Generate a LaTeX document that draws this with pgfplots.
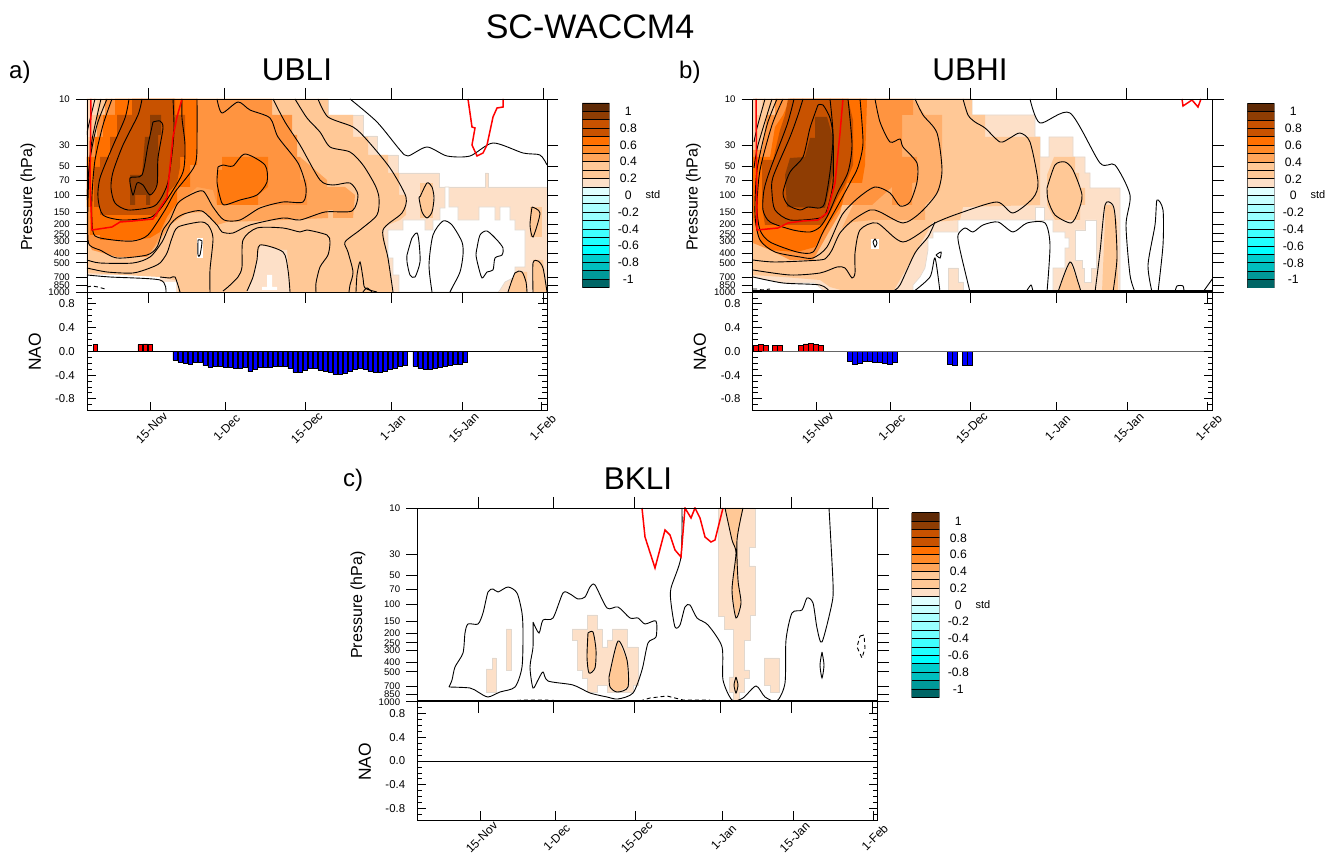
\documentclass[border=0pt]{standalone}
\usepackage{fontspec}
\setmainfont{Liberation Sans}
\usepackage{pgfplots}
\pgfplotsset{compat=1.18}
\definecolor{cA}{HTML}{5F2A06}\definecolor{cB}{HTML}{8F3D03}\definecolor{cC}{HTML}{C85200}
\definecolor{cD}{HTML}{FF7000}\definecolor{cE}{HTML}{FF8A28}\definecolor{cF}{HTML}{FFA55A}
\definecolor{cG}{HTML}{FFC896}\definecolor{cH}{HTML}{FDE0C8}\definecolor{cMain}{HTML}{FF9440}
\definecolor{cBlob}{HTML}{FF7A10}\definecolor{cStrip}{HTML}{FFD8B8}\definecolor{cEdge}{HTML}{E2D8CE}
\definecolor{cI}{HTML}{E0FFFF}\definecolor{cJ}{HTML}{C8FFFF}\definecolor{cK}{HTML}{AAFFFF}\definecolor{cL}{HTML}{99FFFF}
\definecolor{cM}{HTML}{70FFFF}\definecolor{cN}{HTML}{40FFFF}\definecolor{cO}{HTML}{20FFFF}\definecolor{cP}{HTML}{00FFFF}
\definecolor{cQ}{HTML}{00CCCC}\definecolor{cR}{HTML}{00BFBF}\definecolor{cS}{HTML}{009999}\definecolor{cT}{HTML}{006666}
\newcommand\fs[1]{\fontsize{#1}{#1}\selectfont}
\newcommand\reg[2]{\addplot[fill=#1,draw=none,forget plot] coordinates {#2};}
\newcommand\regE[2]{\addplot[fill=#1,draw=cEdge,line width=0.7pt,forget plot] coordinates {#2};}
\newcommand\ctr[1]{\addplot[black,line width=0.9pt,smooth,tension=0.45,forget plot] coordinates {#1};}
\newcommand\ctrd[1]{\addplot[black,line width=0.9pt,dash pattern=on 4pt off 3pt,forget plot] coordinates {#1};}
\newcommand\rln[1]{\addplot[red,line width=1.5pt,forget plot] coordinates {#1};}
\newcommand\zero[3][black]{\addplot[#1,line width=0.9pt,forget plot] coordinates {(#2,0)(#3,0)};}
\newcommand\barsR[1]{\addplot[ybar,bar shift=0pt,bar width=4.6pt,fill=red,draw=black,line width=0.6pt,forget plot] coordinates {#1};}
\newcommand\barsB[1]{\addplot[ybar,bar shift=0pt,bar width=4.6pt,fill=blue,draw=black,line width=0.6pt,forget plot] coordinates {#1};}
\pgfplotsset{
 ptop/.style={scale only axis,no markers,axis on top,axis line style={line width=0.8pt},
  tick style={black,line width=0.8pt},tick align=outside,major tick length=11pt,
  xtick pos=both,ytick pos=both,yticklabel pos=left,xticklabels={},y dir=reverse,
  yticklabels={10,30,50,70,100,150,200,250,300,400,500,700,850,1000},
  yticklabel style={font=\fs{9.6},inner sep=0pt,xshift=-6pt}},
 pnao/.style={scale only axis,no markers,axis on top,ymin=-1,ymax=1,axis line style={line width=0.8pt},
  tick style={black,line width=0.8pt},tick align=inside,major tick length=9pt,minor tick length=5pt,
  ytick={-0.8,-0.4,0,0.4,0.8},yticklabels={-0.8,-0.4,0.0,0.4,0.8},
  minor ytick={-1,-0.9,-0.7,-0.6,-0.5,-0.3,-0.2,-0.1,0.1,0.2,0.3,0.5,0.6,0.7,0.9,1},
  ytick pos=both,yticklabel pos=left,xtick pos=bottom,
  xticklabels={15-Nov,1-Dec,15-Dec,1-Jan,15-Jan,1-Feb},
  xticklabel style={font=\fs{12},rotate=45,anchor=center,yshift=-13.2pt,xshift=-10.8pt},
  yticklabel style={font=\fs{11.4},inner sep=0pt,xshift=-12pt}},
 pbar/.style={scale only axis,no markers,xmin=0,xmax=1,ymin=-1.1,ymax=1.1,axis line style={draw=none},
  xtick=\empty,major tick length=0pt,tick style={draw=none},
  ytick={-1,-0.8,-0.6,-0.4,-0.2,0,0.2,0.4,0.6,0.8,1},
  yticklabels={-1,-0.8,-0.6,-0.4,-0.2,0,0.2,0.4,0.6,0.8,1},
  ytick pos=right,yticklabel pos=right,
  yticklabel style={font=\fs{12.2},anchor=center,inner sep=0pt,xshift=19pt}}}
\newcommand\cbox[2]{\pgfmathsetmacro\lo{#2-0.1}\edef\tmp{\noexpand\addplot[fill=#1,draw=black,line width=0.8pt,forget plot] coordinates {(0,#2)(1,#2)(1,\lo)(0,\lo)(0,#2)};}\tmp}
\newcommand\allboxes{%
\cbox{cA}{1.1}\cbox{cB}{1.0}\cbox{cC}{0.9}\cbox{cC}{0.8}\cbox{cD}{0.7}\cbox{cE}{0.6}\cbox{cF}{0.5}\cbox{cG}{0.4}\cbox{cG}{0.3}\cbox{cH}{0.2}%
\cbox{cI}{0.1}\cbox{cJ}{0.0}\cbox{cK}{-0.1}\cbox{cL}{-0.2}\cbox{cM}{-0.3}\cbox{cN}{-0.4}\cbox{cO}{-0.5}\cbox{cP}{-0.6}%
\cbox{cQ}{-0.7}\cbox{cR}{-0.8}\cbox{cS}{-0.9}\cbox{cT}{-1.0}}
\begin{document}
\begin{tikzpicture}[x=1pt,y=1pt]
\path[use as bounding box] (0,0) rectangle (1336,853);
% ---------- panel a contour
\begin{axis}[ptop,at={(87pt,561pt)},anchor=south west,width=460pt,height=193pt,xmin=87,xmax=547,ymin=99,ymax=292,
 xtick={148,224,305,391,462,543},ytick={99,145,166.5,180.6,195.5,212.5,224.6,233.9,241.5,253.6,262.9,277,285.2,292}]
\regE{cH}{(87,99)(328,99)(328,115)(363,115)(363,136)(377,136)(377,155)(398,155)(398,173)(439,173)(439,187)(485,187)(485,173)(488,173)(488,187)(547,187)(547,292)(87,292)}
\regE{white}{(388,230)(403,230)(403,220)(425,220)(425,230)(433,230)(433,220)(440,220)(440,208)(445,208)(445,187)(449,187)(449,207)(458,207)(458,220)(479,220)(479,207)(495,207)(495,220)(500,220)(500,207)(510,207)(510,220)(515,220)(515,230)(525,230)(525,267)(515,267)(515,277)(505,282)(500,290)(498,292)(399,292)(399,275)(393,275)(393,258)(388,258)(388,230)}
\reg{white}{(87,275)(160,275)(160,282)(176,282)(176,292)(87,292)}
\reg{cG}{(87,99)(328,99)(328,115)(353,115)(353,137)(368,137)(368,155)(388,155)(388,173)(399,173)(399,195)(406,195)(406,215)(400,220)(388,225)(383,230)(388,258)(393,292)(178,292)(178,281)(160,277)(87,273)}
\reg{cH}{(260,245)(283,250)(287,250)(290,292)(247,292)(253,277)(257,260)}
\reg{white}{(267,275)(272,275)(272,287)(277,287)(277,290)(262,290)(262,287)(267,287)}
\reg{white}{(197,238)(203,238)(203,258)(197,258)}
\reg{cG}{(420,183)(433,183)(433,218)(420,218)}
\reg{cG}{(530,207)(542,207)(542,237)(530,237)}
\reg{cG}{(508,292)(515,272)(527,272)(527,292)}
\reg{cG}{(533,292)(533,260)(543,260)(547,292)}
\reg{cStrip}{(87,99)(97,99)(97,115)(90,115)(90,137)(87,137)}
\reg{cF}{(147,258)(160,240)(170,225)(187,213)(205,212)(217,225)(227,222)(283,220)(328,218)(328,210)(333,210)(333,218)(353,218)(355,195)(345,187)(327,187)(327,180)(300,157)(200,160)}
\reg{cMain}{(105,99)(272,99)(272,115)(292,115)(292,135)(297,135)(297,157)(300,157)(300,180)(307,180)(307,205)(217,205)(213,190)(197,187)(177,205)(165,225)(155,245)(147,257)(117,257)(92,250)(87,240)(87,157)(90,157)(90,137)(97,137)(97,115)(105,115)}
\reg{cBlob}{(222,157)(268,157)(268,187)(258,195)(258,205)(217,205)(217,170)(222,170)}
\reg{cD}{(115,99)(197,99)(197,165)(190,165)(190,187)(177,187)(177,203)(167,217)(160,232)(150,238)(133,240)(100,240)(100,235)(90,235)(90,207)(87,207)(87,157)(95,157)(95,137)(103,137)(103,115)(115,115)}
\reg{cC}{(132,99)(175,99)(175,115)(185,115)(185,157)(180,157)(180,167)(177,183)(168,193)(160,207)(157,217)(150,215)(100,215)(100,207)(94,207)(94,167)(100,167)(100,157)(110,157)(110,137)(117,137)(117,115)(132,115)}
\reg{cB}{(150,115)(161,115)(161,135)(158,135)(158,183)(150,195)(150,205)(146,205)(146,195)(135,195)(135,205)(130,205)(130,175)(142,175)(145,137)(150,137)}
\ctr{(153,122)(160,121)(163,128)(158,158)(157,185)(150,195)(143,185)(137,183)(133,195)(130,178)(142,175)(148,145)(153,122)}
\ctr{(142,99)(138,115)(123,145)(113,172)(111,188)(115,203)(128,210)(152,207)(160,200)(168,182)(173,145)(174,125)(173,99)}
\ctr{(129,99)(125,118)(112,148)(100,178)(98,198)(103,215)(122,220)(148,218)(157,213)(168,198)(183,172)(185,145)(182,118)(182,99)}
\ctr{(112,99)(103,125)(95,160)(92,195)(92,222)(95,236)(113,240)(133,241)(148,235)(165,210)(175,192)(195,165)(197,135)(197,99)}
\ctr{(107,99)(97,125)(90,160)(88,200)(88,240)(92,247)(100,250)(117,258)(147,255)(157,247)(163,230)(170,220)(178,203)(190,195)(203,191)(213,207)(224,220)(240,220)(260,208)(283,202)(303,202)(306,187)(298,163)(278,137)(270,118)(250,110)(238,102)(222,113)(217,99)}
\ctr{(218,167)(223,165)(233,166)(245,154)(265,165)(267,182)(257,195)(240,200)(224,205)(220,197)(217,182)(218,167)}
\ctr{(101,99)(92,140)(88,180)(87,200)}
\ctr{(273,99)(285,122)(300,145)(320,180)(333,185)(350,183)(358,195)(352,211)(325,212)(300,220)(283,218)(250,225)(233,233)(222,232)(217,225)(202,211)(187,213)(178,217)(170,225)(162,242)(150,257)(133,263)(100,263)(87,260)}
\ctr{(95,99)(88,128)(87,135)}
\ctr{(295,99)(307,118)(320,132)(330,147)(350,152)(363,165)(375,185)(379,198)(377,215)(360,230)(345,242)(348,252)(353,272)(350,285)(349,292)}
\ctr{(87,268)(107,272)(133,273)(150,268)(160,263)(167,253)(172,238)(178,227)(200,222)(208,225)(213,238)(210,270)(210,292)}
\ctr{(223,291)(228,287)(238,277)(242,267)(243,240)(257,228)(283,228)(300,232)(307,230)(327,235)(330,242)(328,255)(320,267)(316,283)(316,292)}
\ctr{(247,291)(253,277)(257,260)(260,245)(283,252)(288,270)(290,292)}
\ctr{(198,240)(202,241)(200,255)(198,255)(198,240)}
\ctr{(318,99)(328,117)(353,127)(367,140)(390,168)(406,197)(402,213)(383,230)(388,258)(393,292)}
\ctr{(350,99)(377,122)(400,150)(408,156)(427,147)(447,156)(470,156)(493,143)(523,153)(540,155)(547,165)}
\ctr{(87,275)(110,277)(160,280)(166,292)}
\ctr{(160,277)(170,278)(175,277)(180,292)}
\ctr{(356,292)(357,275)(360,262)(363,278)(365,288)(377,292)}
\ctr{(363,292)(367,288)(372,292)}
\ctr{(420,197)(427,183)(432,187)(434,198)(432,212)(427,218)(422,212)(419,198)(420,197)}
\ctr{(407,255)(412,238)(417,233)(419,242)(420,262)(415,277)(410,275)(407,262)(407,255)}
\ctr{(432,292)(429,265)(433,235)(443,221)(452,225)(462,242)(463,255)(460,272)(452,288)(450,292)}
\ctr{(477,248)(480,235)(487,231)(497,240)(503,248)(502,255)(495,258)(493,270)(487,272)(482,278)(478,265)(476,255)(477,248)}
\ctr{(532,207)(540,213)(533,237)(530,225)(532,207)}
\ctr{(508,292)(515,273)(522,272)(526,282)(527,292)}
\ctr{(533,292)(533,263)(538,261)(543,268)(547,292)}
\ctrd{(87,287)(92,286)(98,287)(105,289)}
\rln{(91,99)(90,183)(92,230)(112,227)(120,222)(133,221)(153,219)(167,197)(173,137)(177,117)(182,99)}
\rln{(468,99)(472,127)(475,128)(472,145)(477,156)(483,153)(487,145)(493,117)(497,108)(503,107)(503,99)}
\end{axis}
% ---------- panel a NAO
\begin{axis}[pnao,at={(87pt,442.3pt)},anchor=south west,width=460pt,height=118.7pt,xmin=87,xmax=547,xtick={150,225,305,391,462,541}]
\barsR{(95.3,0.12)(140.2,0.115)(145.2,0.125)(150.2,0.12)}
\barsB{(175.2,-0.146)(180.2,-0.18)(185.2,-0.2)(190.2,-0.21)(195.2,-0.19)(200.2,-0.19)(205.2,-0.235)(210.2,-0.265)(215.2,-0.25)(220.2,-0.255)(225.2,-0.27)(230.2,-0.275)(235.2,-0.28)(240.2,-0.285)(245.2,-0.275)(250.2,-0.34)(255.2,-0.3)(260.2,-0.275)(265.2,-0.27)(270.2,-0.265)(275.2,-0.25)(280.2,-0.25)(285.2,-0.26)(290.2,-0.29)(295.2,-0.355)(300.2,-0.36)(305.2,-0.32)(310.2,-0.29)(315.2,-0.285)(320.2,-0.315)(325.2,-0.33)(330.2,-0.355)(335.2,-0.39)(340.2,-0.38)(345.2,-0.37)(350.2,-0.33)(355.2,-0.30)(360.2,-0.29)(365.2,-0.31)(370.2,-0.34)(375.2,-0.36)(380.2,-0.35)(385.2,-0.33)(390.2,-0.31)(395.2,-0.29)(400.2,-0.26)(405.2,-0.24)(415.2,-0.25)(420.2,-0.29)(425.2,-0.31)(430.2,-0.3)(435.2,-0.28)(440.2,-0.27)(445.2,-0.25)(450.2,-0.24)(455.2,-0.22)(460.2,-0.21)(465.2,-0.18)}
\zero{87}{547}
\end{axis}
% ---------- panel b contour
\begin{axis}[ptop,at={(752.7pt,561pt)},anchor=south west,width=460pt,height=193pt,xmin=752.7,xmax=1212.7,ymin=99,ymax=292,
 xtick={813.7,889,970,1056,1126.7,1207.7},ytick={99,145,166.5,180.6,195.5,212.5,224.6,233.9,241.5,253.6,262.9,277,285.2,292}]
\regE{cH}{(753,99)(972,99)(972,115)(1035,115)(1035,137)(1040,137)(1040,157)(1049,157)(1049,137)(1073,137)(1073,157)(1085,157)(1085,173)(1090,173)(1090,188)(1120,188)(1120,292)(825,292)(815,283)(783,283)(753,277)}
\regE{white}{(913,292)(913,285)(920,277)(925,268)(928,250)(928,238)(933,238)(933,232)(958,232)(958,220)(1044,220)(1053,220)(1053,232)(1065,232)(1065,238)(1069,238)(1069,248)(1065,248)(1065,268)(1053,268)(1053,292)}
\regE{white}{(1085,220)(1085,230)(1075,230)(1075,260)(1082,260)(1082,268)(1084,268)(1084,282)(1091,282)(1091,268)(1096,268)(1096,220)(1085,220)}
\regE{white}{(1035,207)(1044,207)(1044,220)(1035,220)(1035,207)}
\regE{cH}{(948,292)(948,268)(958,268)(958,282)(963,282)(963,292)}
\reg{cG}{(753,99)(972,99)(972,115)(985,115)(985,137)(1040,137)(1040,205)(963,207)(960,220)(933,222)(917,250)(893,292)(848,292)(830,287)(820,280)(783,277)(753,275)}
\reg{cG}{(1054,157)(1075,157)(1075,173)(1079,173)(1079,188)(1085,188)(1085,205)(1080,205)(1080,220)(1055,220)(1047,205)(1047,175)}
\reg{cG}{(1102,292)(1105,220)(1105,205)(1112,205)(1117,222)(1118,292)}
\reg{cG}{(1058,292)(1070,262)(1078,282)(1081,292)}
\reg{white}{(871,239)(879,239)(879,249)(871,249)}
\reg{cStrip}{(753,99)(762,99)(762,115)(756,115)(756,140)(753,140)}
\reg{cF!70!cG}{(842,228)(853,205)(867,150)(913,99)(925,115)(942,115)(942,170)(940,190)(925,205)(925,220)(873,220)(853,222)}
\reg{cMain}{(775,99)(913,99)(913,115)(902,115)(902,157)(917,157)(917,182)(912,183)(912,205)(892,205)(892,187)(872,205)(842,205)(840,213)(830,230)(817,253)(813,260)(790,260)(770,250)(753,243)(753,150)(762,150)(767,115)(775,115)}
\reg{cD}{(790,99)(867,99)(865,165)(862,183)(847,183)(842,205)(827,227)(815,247)(797,252)(770,250)(760,242)(753,217)(753,157)(770,157)(775,127)(783,115)}
\reg{cC}{(788,99)(848,99)(853,120)(853,165)(845,185)(838,197)(830,213)(822,225)(800,225)(765,225)(762,207)(762,160)(773,160)(780,130)(785,115)}
\reg{cB}{(815,117)(827,117)(833,138)(833,172)(825,208)(787,207)(785,175)(790,158)(805,157)(810,138)(815,138)}
\ctr{(818,105)(823,105)(830,118)(833,138)(830,172)(825,202)(820,208)(808,207)(800,210)(788,205)(783,193)(790,172)(803,157)(810,128)(818,105)}
\ctr{(803,99)(798,115)(790,137)(773,177)(772,193)(775,210)(790,220)(820,218)(827,210)(833,183)(833,133)(830,99)}
\ctr{(794,99)(787,125)(770,170)(764,190)(763,210)(770,222)(793,230)(810,232)(820,227)(828,215)(838,192)(848,172)(852,145)(848,99)}
\ctr{(860,99)(863,143)(858,167)(850,183)(837,207)(823,232)(813,252)(797,252)(770,242)(760,230)(757,207)(760,170)(772,125)(783,99)}
\ctr{(875,99)(880,122)(890,142)(900,139)(903,147)(917,163)(917,182)(910,202)(900,206)(890,193)(875,187)(858,198)(842,215)(827,247)(813,258)(800,257)(775,252)(760,240)(755,215)(757,170)(767,125)(777,99)}
\ctr{(915,99)(923,115)(937,133)(942,170)(937,193)(920,213)(903,223)(880,212)(870,210)(853,220)(840,233)(832,250)(827,257)(820,260)(775,262)(753,260)}
\ctr{(772,99)(758,145)(754,168)}
\ctr{(765,99)(757,128)(754,142)}
\ctr{(963,99)(968,115)(975,122)(985,128)(1000,142)(1010,138)(1020,133)(1030,142)(1038,182)(1033,198)(1013,213)(997,202)(963,212)(935,223)(903,242)(877,223)(860,230)(855,253)(855,273)(852,278)(845,268)(837,267)(820,273)(790,275)(753,270)}
\ctr{(893,291)(900,285)(915,253)(928,237)(935,222)}
\ctr{(753,277)(783,283)(820,285)(830,292)}
\ctr{(1030,99)(1040,123)(1070,113)(1100,163)(1115,165)(1130,195)(1126,225)(1130,275)(1135,292)}
\ctr{(970,292)(960,250)(958,235)(965,228)(973,232)(983,225)(998,222)(1013,232)(1027,223)(1045,223)(1050,245)(1047,292)}
\ctr{(873,242)(875,239)(877,243)(875,247)(873,242)}
\ctr{(913,292)(930,277)(935,258)(940,292)}
\ctr{(936,255)(941,252)(940,258)(936,255)}
\ctr{(1047,188)(1055,165)(1065,162)(1073,170)(1082,195)(1078,212)(1071,223)(1055,215)(1048,200)(1047,188)}
\ctr{(1095,292)(1100,252)(1105,205)(1112,204)(1115,215)(1117,258)(1113,292)}
\ctr{(1058,292)(1070,262)(1078,282)(1081,292)}
\ctr{(1026,292)(1031,285)(1033,292)}
\ctr{(1152,292)(1148,265)(1155,225)(1157,200)(1163,210)(1163,245)(1158,292)}
\ctr{(1175,292)(1177,286)(1183,286)(1184,292)}
\ctr{(1203,292)(1213,278)}
\ctrd{(753,289)(757,289)(762,290)(770,289)}
\addplot[black,line width=3pt,forget plot] coordinates {(752.7,292)(1212.7,292)};
\rln{(756,99)(757,230)(778,228)(788,223)(803,221)(818,220)(827,213)(835,183)(840,133)(843,99)}
\rln{(1182,99)(1183,106)(1192,100)(1198,107)(1201,99)}
\end{axis}
% ---------- panel b NAO
\begin{axis}[pnao,at={(752.7pt,442.3pt)},anchor=south west,width=460pt,height=118.7pt,xmin=752.7,xmax=1212.7,xtick={816,890,970,1056,1127,1207}]
\barsR{(755.8,0.1)(760.8,0.12)(765.8,0.1)(775,0.105)(780,0.105)(800.8,0.1)(805.8,0.125)(810.8,0.135)(815.8,0.12)(820.8,0.1)}
\barsB{(850,-0.175)(855,-0.21)(860,-0.2)(865,-0.17)(870,-0.17)(875,-0.18)(880,-0.185)(885,-0.2)(890,-0.215)(895,-0.185)(950,-0.215)(955,-0.23)(965,-0.23)(970,-0.235)}
\zero[black!60]{752.7}{1212.7}
\end{axis}
% ---------- panel c contour
\begin{axis}[ptop,at={(417.3pt,151.3pt)},anchor=south west,width=460.4pt,height=193.7pt,xmin=417.3,xmax=877.7,ymin=508,ymax=701.7,
 xtick={478,553.7,634.7,720.7,791.3,872.3},ytick={508,554,575.5,589.6,604.5,621.5,633.6,642.9,650.5,662.6,671.9,686,694.2,701.7}]
\regE{cH}{(718,508)(755,508)(755,547)(749,547)(749,566)(755,566)(755,615)(750,615)(750,640)(744,640)(744,670)(749,670)(749,678)(744,678)(744,692)(739,692)(739,702)(733,702)(733,692)(729,692)(729,677)(733,677)(733,629)(724,629)(724,616)(718,616)(718,508)}
\regE{cH}{(764,658)(779,658)(779,692)(770,692)(770,685)(764,685)(764,658)}
\regE{cH}{(486,669)(492,669)(492,658)(496,658)(496,692)(486,692)(486,669)}
\regE{cH}{(506,629)(511,629)(511,670)(506,670)(506,629)}
\regE{cH}{(587,615)(597,615)(597,629)(602,629)(602,647)(607,647)(607,640)(612,640)(612,629)(627,629)(627,647)(638,647)(638,685)(633,685)(633,692)(607,692)(607,685)(597,685)(597,692)(587,692)(587,678)(582,678)(582,670)(577,670)(577,640)(572,640)(572,629)(587,629)(587,615)}
\reg{cG}{(609,677)(618,641)(627,660)(628,687)(617,692)(610,687)}
\reg{cG}{(588,633)(593,632)(596,650)(595,668)(589,673)(587,657)}
\reg{cG}{(725,508)(732,540)(736,553)(732,590)(736,618)(741,603)(738,580)(737,540)(743,508)}
\reg{cG}{(736,677)(738,685)(736,693)(734,685)}
\ctr{(449,687)(452,680)(455,667)(463,653)(465,633)(468,624)(478,624)(483,613)(488,592)(493,589)(498,592)(508,587)(517,593)(522,613)(523,633)(522,667)(515,687)(500,692)(488,697)(478,692)(470,688)(449,687)}
\ctr{(533,622)(539,633)(543,620)(553,618)(563,593)(570,594)(578,599)(585,597)(590,587)(595,585)(607,608)(618,607)(630,618)(638,618)(645,624)(656,621)(656,637)(648,643)(642,670)(633,693)(618,699)(607,697)(590,693)(573,685)(548,681)(543,672)(538,680)(533,688)(530,667)(533,647)(533,622)}
\ctr{(588,633)(593,632)(596,650)(595,668)(589,673)(587,657)(588,633)}
\ctr{(609,677)(618,641)(627,660)(628,687)(617,692)(610,687)(609,677)}
\ctr{(682,508)(681,557)(671,588)(671,603)(675,627)(680,625)(685,607)(690,605)(697,618)(708,625)(722,647)(723,680)(732,700)(743,698)(756,686)(765,697)(777,701)(785,683)(786,640)(792,613)(802,610)(807,598)(813,603)(817,628)(822,642)(832,603)(833,583)(829,508)}
\ctr{(725,508)(732,540)(736,553)(732,590)(736,618)(741,603)(738,580)(737,540)(743,508)}
\ctr{(736,677)(738,685)(736,693)(734,685)(736,677)}
\ctr{(822,652)(824,665)(822,678)(820,665)(822,652)}
\ctrd{(860,636)(864,635)(865,648)(862,658)(857,647)(860,636)}
\ctrd{(510,701)(523,700)(543,700)(567,701)}
\ctrd{(640,701)(650,698)(667,696)(683,700)(710,700)}
\addplot[black,line width=3pt,forget plot] coordinates {(417.3,701.7)(877.7,701.7)};
\rln{(642,508)(645,537)(655,568)(665,530)(670,535)(675,550)(681,557)(685,508)(691,518)(695,508)(700,518)(705,537)(711,542)(715,540)(723,508)}
\end{axis}
% ---------- panel c NAO
\begin{axis}[pnao,at={(417.3pt,32.6pt)},anchor=south west,width=460.4pt,height=118.7pt,xmin=417.3,xmax=877.7,xtick={480,555,635,722,793,873}]
\zero{417.3}{877.7}
\end{axis}
% ---------- colour bars
\begin{axis}[pbar,at={(582.3pt,565.3pt)},anchor=south west,width=27pt,height=184.7pt]\allboxes\end{axis}
\begin{axis}[pbar,at={(1247.3pt,565pt)},anchor=south west,width=27pt,height=184.7pt]\allboxes\end{axis}
\begin{axis}[pbar,at={(911.7pt,155.7pt)},anchor=south west,width=27.6pt,height=184.6pt]\allboxes\end{axis}
% ---------- text
\node[font=\fs{34}] at (590,826) {SC-WACCM4};
\node[font=\fs{31.5}] at (297,783) {UBLI};
\node[font=\fs{31.5}] at (970,783) {UBHI};
\node[font=\fs{31.5}] at (638,374) {BKLI};
\node[font=\fs{24},anchor=west,inner sep=0pt] at (9,781) {a)};
\node[font=\fs{24},anchor=west,inner sep=0pt] at (679,781) {b)};
\node[font=\fs{24},anchor=west,inner sep=0pt] at (343,373) {c)};
\node[font=\fs{16},rotate=90] at (28,656) {Pressure (hPa)};
\node[font=\fs{16},rotate=90] at (693.5,656) {Pressure (hPa)};
\node[font=\fs{16},rotate=90] at (358,248) {Pressure (hPa)};
\node[font=\fs{17.4},rotate=90] at (35,501) {NAO};
\node[font=\fs{17.4},rotate=90] at (700,501) {NAO};
\node[font=\fs{17.4},rotate=90] at (365,91) {NAO};
\node[font=\fs{11}] at (653,658) {std};
\node[font=\fs{11}] at (1318,658) {std};
\node[font=\fs{11}] at (983,248) {std};
\end{tikzpicture}
\end{document}
